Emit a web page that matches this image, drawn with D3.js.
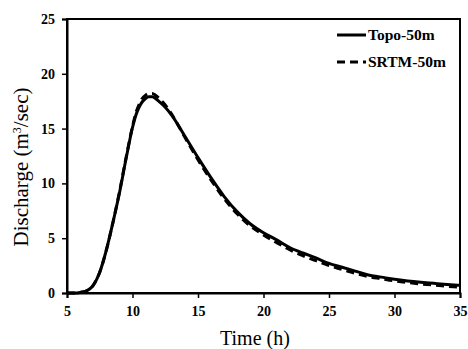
<!DOCTYPE html>
<html>
<head>
<meta charset="utf-8">
<script src="https://cdn.jsdelivr.net/npm/d3@7"></script>
<style>
  body { margin: 0; background: #fff; }
  text { font-family: "Liberation Serif", "Times New Roman", serif; }
</style>
</head>
<body>
<div id="chart"></div>
<script>
var times = [5, 5.5, 6, 6.5, 7, 7.5, 8, 8.5, 9, 9.5, 10, 10.25, 10.5, 10.75, 11, 11.25, 11.5, 11.75, 12, 12.5, 13, 14, 15, 16, 17, 18, 19, 20, 21, 22, 23, 24, 25, 26, 27, 28, 29, 30, 31, 32, 33, 34, 35];
var topo = [0, 0, 0.05, 0.2, 0.7, 1.9, 3.9, 6.4, 9.1, 12.2, 15.1, 16.2, 16.95, 17.45, 17.75, 17.9, 17.9, 17.75, 17.5, 16.95, 16.2, 14.3, 12.35, 10.5, 8.8, 7.4, 6.3, 5.5, 4.85, 4.15, 3.65, 3.2, 2.7, 2.35, 2.0, 1.65, 1.45, 1.25, 1.1, 0.98, 0.88, 0.78, 0.7];
var srtm = [0, 0, 0.05, 0.2, 0.7, 1.9, 3.9, 6.4, 9.2, 12.3, 15.2, 16.4, 17.2, 17.75, 18.05, 18.2, 18.2, 18.05, 17.8, 17.15, 16.3, 14.2, 12.15, 10.3, 8.6, 7.2, 6.1, 5.3, 4.6, 3.95, 3.4, 2.95, 2.5, 2.15, 1.8, 1.5, 1.3, 1.1, 0.95, 0.83, 0.72, 0.62, 0.52];
var xTicks = [5, 10, 15, 20, 25, 30, 35];
var yTicks = [0, 5, 10, 15, 20, 25];
var seriesNames = ["Topo-50m", "SRTM-50m"];

function init() {
    var w = 468;
    var h = 349;
    var left = 67, right = 460, top = 19, bottom = 293;

    var xScale = d3.scaleLinear().domain([5, 35]).range([left, right]);
    var yScale = d3.scaleLinear().domain([0, 25]).range([bottom, top]);

    var svg = d3.select("#chart").append("svg")
        .attr("width", w)
        .attr("height", h);

    // frame
    svg.append("rect")
        .attr("x", left).attr("y", top)
        .attr("width", right - left).attr("height", bottom - top)
        .attr("fill", "none").attr("stroke", "#000").attr("stroke-width", 2);

    var xAxis = d3.axisBottom(xScale).tickValues(xTicks).tickSize(5).tickPadding(8);
    var yAxis = d3.axisLeft(yScale).tickValues(yTicks).tickSize(5).tickPadding(7);

    var gx = svg.append("g")
        .attr("transform", "translate(0," + bottom + ")")
        .call(xAxis);
    var gy = svg.append("g")
        .attr("transform", "translate(" + left + ",0)")
        .call(yAxis);

    [gx, gy].forEach(function(g) {
        g.select(".domain").attr("stroke-width", 2);
        g.selectAll(".tick line").attr("stroke-width", 1.5);
        g.selectAll(".tick text")
            .style("font-family", "'Liberation Serif', serif")
            .style("font-weight", "bold")
            .style("font-size", "14px")
            .attr("fill", "#000");
    });

    var line = d3.line()
        .x(function(d) { return xScale(d[0]); })
        .y(function(d) { return yScale(d[1]); })
        .curve(d3.curveMonotoneX);

    var srtmData = times.map(function(t, i) { return [t, srtm[i]]; });
    var topoData = times.map(function(t, i) { return [t, topo[i]]; });

    svg.append("path")
        .datum(srtmData)
        .attr("d", line)
        .attr("fill", "none")
        .attr("stroke", "#000")
        .attr("stroke-width", 3)
        .attr("stroke-dasharray", "8,5");

    svg.append("path")
        .datum(topoData)
        .attr("d", line)
        .attr("fill", "none")
        .attr("stroke", "#000")
        .attr("stroke-width", 3);

    // legend
    var legend = svg.append("g");
    seriesNames.forEach(function(name, i) {
        var y = 35 + i * 27;
        legend.append("line")
            .attr("x1", 337).attr("x2", 366)
            .attr("y1", y).attr("y2", y)
            .attr("stroke", "#000")
            .attr("stroke-width", 3)
            .attr("stroke-dasharray", i === 1 ? "8,5" : null);
        legend.append("text")
            .attr("x", 368).attr("y", y + 5)
            .style("font-weight", "bold")
            .style("font-size", "15.5px")
            .text(name);
    });

    // axis titles
    svg.append("text")
        .attr("x", 220)
        .attr("y", 345)
        .style("font-size", "20px")
        .text("Time (h)");

    var yl = svg.append("text")
        .attr("transform", "translate(28," + 167 + ") rotate(-90)")
        .attr("text-anchor", "middle")
        .style("font-size", "21px");
    yl.append("tspan").text("Discharge (m");
    yl.append("tspan").attr("baseline-shift", "super").style("font-size", "12px").text("3");
    yl.append("tspan").text("/sec)");
}

window.onload = init;
</script>
</body>
</html>
